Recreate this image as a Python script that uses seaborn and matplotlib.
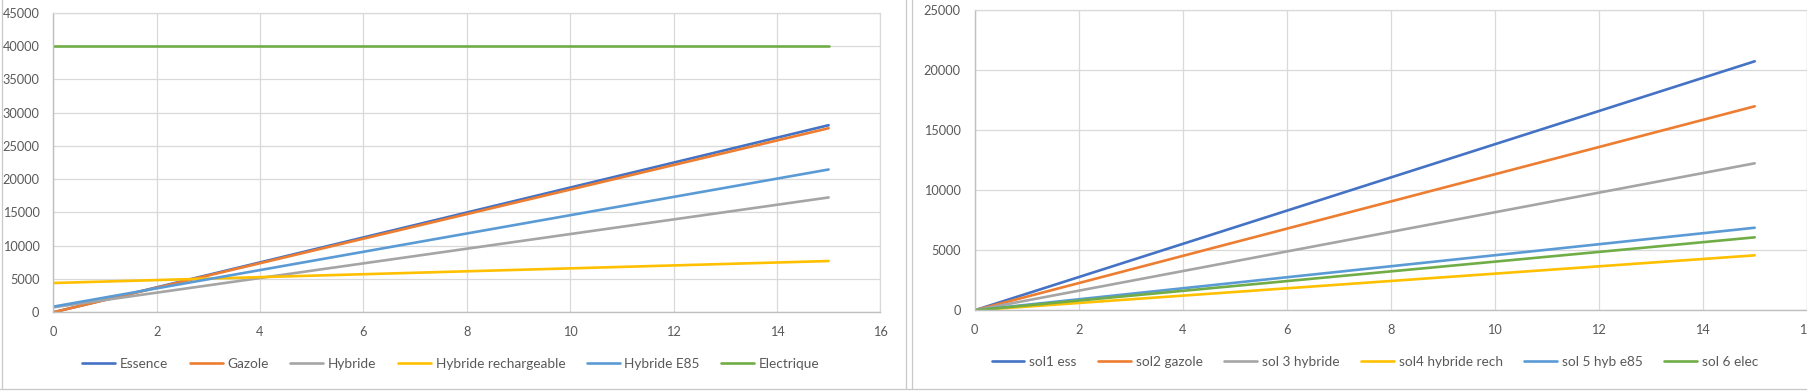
import pandas as pd
import seaborn as sns
import matplotlib.pyplot as plt
from matplotlib.lines import Line2D

# --- data (cumulative cost vs years) ---
annees = [0, 15]

types_gauche = ["Essence", "Gazole", "Hybride", "Hybride rechargeable", "Hybride E85", "Electrique"]
essence = [0, 28100]
gazole = [0, 27650]
hybride = [750, 17250]
hybride_rech = [4400, 7700]
hybride_e85 = [850, 21450]
electrique = [40000, 40000]

types_droite = ["sol1 ess", "sol2 gazole", "sol 3 hybride", "sol4 hybride rech", "sol 5 hyb e85", "sol 6 elec"]
sol1 = [0, 20750]
sol2 = [0, 17000]
sol3 = [0, 12250]
sol4 = [0, 4580]
sol5 = [0, 6880]
sol6 = [0, 6080]

excel_colors = ["#4472C4", "#ED7D31", "#A5A5A5", "#FFC000", "#5B9BD5", "#70AD47"]

W, H = 1807, 392
GRID = "#D9D9D9"
TXT = "#595959"
FS = 9.2


def long_df(names, series):
    rows = []
    for name, vals in zip(names, series):
        for a, v in zip(annees, vals):
            rows.append({"annee": a, "cout": v, "type": name})
    return pd.DataFrame(rows)


def px_axes(fig, x0, x1, ytop, ybot):
    return fig.add_axes([x0 / W, 1 - ybot / H, (x1 - x0) / W, (ybot - ytop) / H])


def style_ax(ax, ymax, ystep):
    ax.set_xlim(0, 16)
    ax.set_ylim(0, ymax)
    ax.set_xticks(range(0, 17, 2))
    ax.set_yticks(range(0, ymax + 1, ystep))
    ax.grid(True, color=GRID, linewidth=0.9)
    ax.set_axisbelow(True)
    for side in ["top", "right"]:
        ax.spines[side].set_color(GRID)
        ax.spines[side].set_linewidth(0.9)
    for side in ["left", "bottom"]:
        ax.spines[side].set_color("#BFBFBF")
        ax.spines[side].set_linewidth(1.0)
    ax.tick_params(length=0, labelsize=FS, labelcolor=TXT, pad=10)
    ax.set_xlabel("")
    ax.set_ylabel("")


sns.set_style("white")
plt.rcParams["font.family"] = ["Lato", "DejaVu Sans"]

fig = plt.figure(figsize=(W / 100, H / 100), dpi=100)

charts = [
    (types_gauche, [essence, gazole, hybride, hybride_rech, hybride_e85, electrique],
     (53.3, 880.3, 12.7, 312.3), 45000, 5000, (451, 364)),
    (types_droite, [sol1, sol2, sol3, sol4, sol5, sol6],
     (974.7, 1806.7, 10.3, 310.3), 25000, 5000, (1375, 362)),
]

for names, series, box, ymax, ystep, leg_pos in charts:
    ax = px_axes(fig, *box)
    df = long_df(names, series)
    sns.lineplot(data=df, x="annee", y="cout", hue="type", hue_order=names,
                 palette=excel_colors, linewidth=1.9, ax=ax, legend=True)
    handles, labels = ax.get_legend_handles_labels()
    ax.get_legend().remove()
    style_ax(ax, ymax, ystep)
    fig.legend(handles, labels, loc="center", ncol=6, frameon=False,
               bbox_to_anchor=(leg_pos[0] / W, 1 - leg_pos[1] / H),
               fontsize=9.8, labelcolor=TXT, handlelength=2.4,
               handletextpad=0.35, columnspacing=1.6)

# spreadsheet / chart frame lines around the two charts
for x in [1.5, 906, 912]:
    fig.add_artist(Line2D([x / W, x / W], [1 - 388 / H, 1], color="#C8C8C8", linewidth=0.9))
fig.add_artist(Line2D([0, 1], [1 - 388.5 / H, 1 - 388.5 / H], color="#C8C8C8", linewidth=0.9))

fig.savefig("out.png", dpi=100, facecolor="white")
